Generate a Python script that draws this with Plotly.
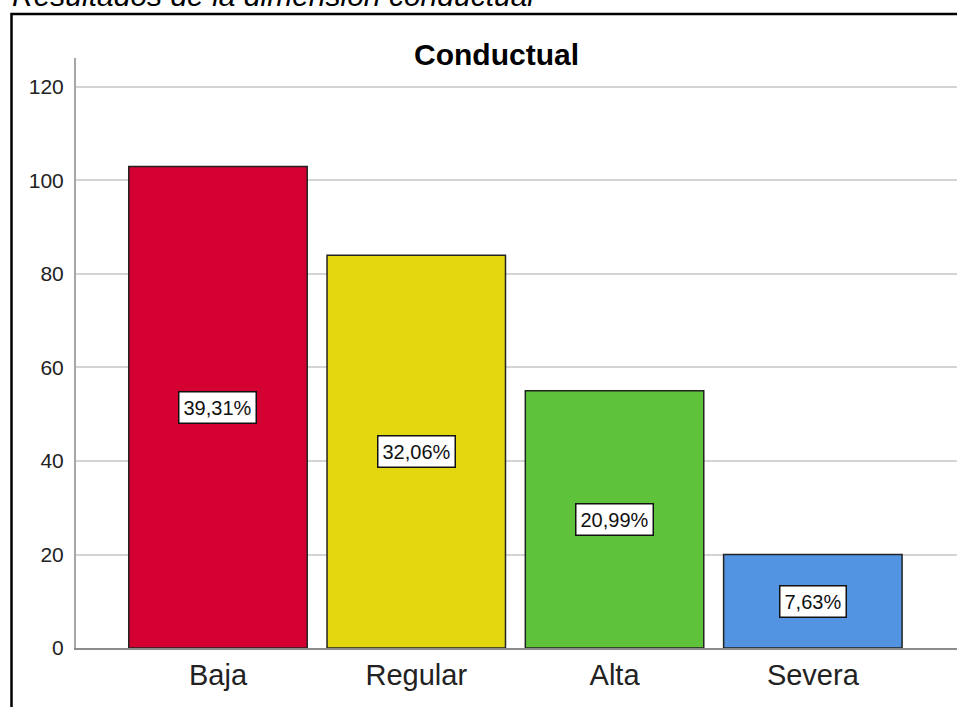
import plotly.graph_objects as go

categories = ["Baja", "Regular", "Alta", "Severa"]
counts = [103, 84, 55, 20]
percent_labels = ["39,31%", "32,06%", "20,99%", "7,63%"]
bar_colors = ["#D50032", "#E2D70F", "#5EC23A", "#5294E2"]
y_ticks = [0, 20, 40, 60, 80, 100, 120]

W, H = 957, 707
L, R, T, B = 76, 0, 58, 59
pw, ph = W - L - R, H - T - B

def px_x(x):
    return (x - L) / pw

def px_y(y):
    return (H - B - y) / ph

fig = go.Figure()
fig.add_trace(go.Bar(
    x=list(range(len(categories))),
    y=counts,
    width=0.9,
    marker=dict(color=bar_colors, line=dict(color="#222", width=1.5)),
    hoverinfo="skip",
))

annotations = []
for i, (c, lab) in enumerate(zip(counts, percent_labels)):
    annotations.append(dict(
        x=i, y=c / 2, xref="x", yref="y", text=lab, showarrow=False,
        font=dict(family="Arial, Liberation Sans", size=20, color="#111"),
        bgcolor="white", bordercolor="#111", borderwidth=1.5, borderpad=4,
    ))

annotations.append(dict(
    x=px_x(496), y=px_y(55), xref="paper", yref="paper", text="<b>Conductual</b>",
    showarrow=False, xanchor="center", yanchor="middle",
    font=dict(family="Arial, Liberation Sans", size=30, color="#000"),
))
annotations.append(dict(
    x=px_x(10), y=px_y(-5), xref="paper", yref="paper",
    text="<i>Resultados de la dimensión conductual</i>",
    showarrow=False, xanchor="left", yanchor="middle",
    font=dict(family="Arial, Liberation Sans", size=30, color="#000"),
))

fig.update_layout(
    width=W, height=H,
    margin=dict(l=L, r=R, t=T, b=B, pad=0),
    paper_bgcolor="white", plot_bgcolor="white",
    showlegend=False,
    annotations=annotations,
    bargap=0.1,
    shapes=[dict(
        type="rect", xref="paper", yref="paper",
        x0=px_x(11.5), x1=px_x(1100), y0=px_y(800), y1=px_y(14),
        line=dict(color="#000", width=2.5), fillcolor="rgba(0,0,0,0)", layer="above",
    )],
    xaxis=dict(
        range=[-0.716, 3.727],
        tickmode="array", tickvals=list(range(len(categories))), ticktext=categories,
        showgrid=False, zeroline=False,
        showline=True, linecolor="#8c8c8c", linewidth=2,
        ticks="", ticklabelstandoff=0,
        tickfont=dict(family="Arial, Liberation Sans", size=29, color="#222"),
    ),
    yaxis=dict(
        range=[0, 126.2],
        tickmode="array", tickvals=y_ticks,
        showgrid=True, gridcolor="#d4d4d4", gridwidth=2,
        zeroline=False,
        showline=True, linecolor="#a6a6a6", linewidth=2,
        ticks="", ticklabelstandoff=6,
        tickfont=dict(family="Arial, Liberation Sans", size=21, color="#222"),
    ),
)

fig.write_html(
    "out.html",
    config={"displayModeBar": False},
    post_script="document.body.style.margin='0';document.body.style.overflow='hidden';",
)
